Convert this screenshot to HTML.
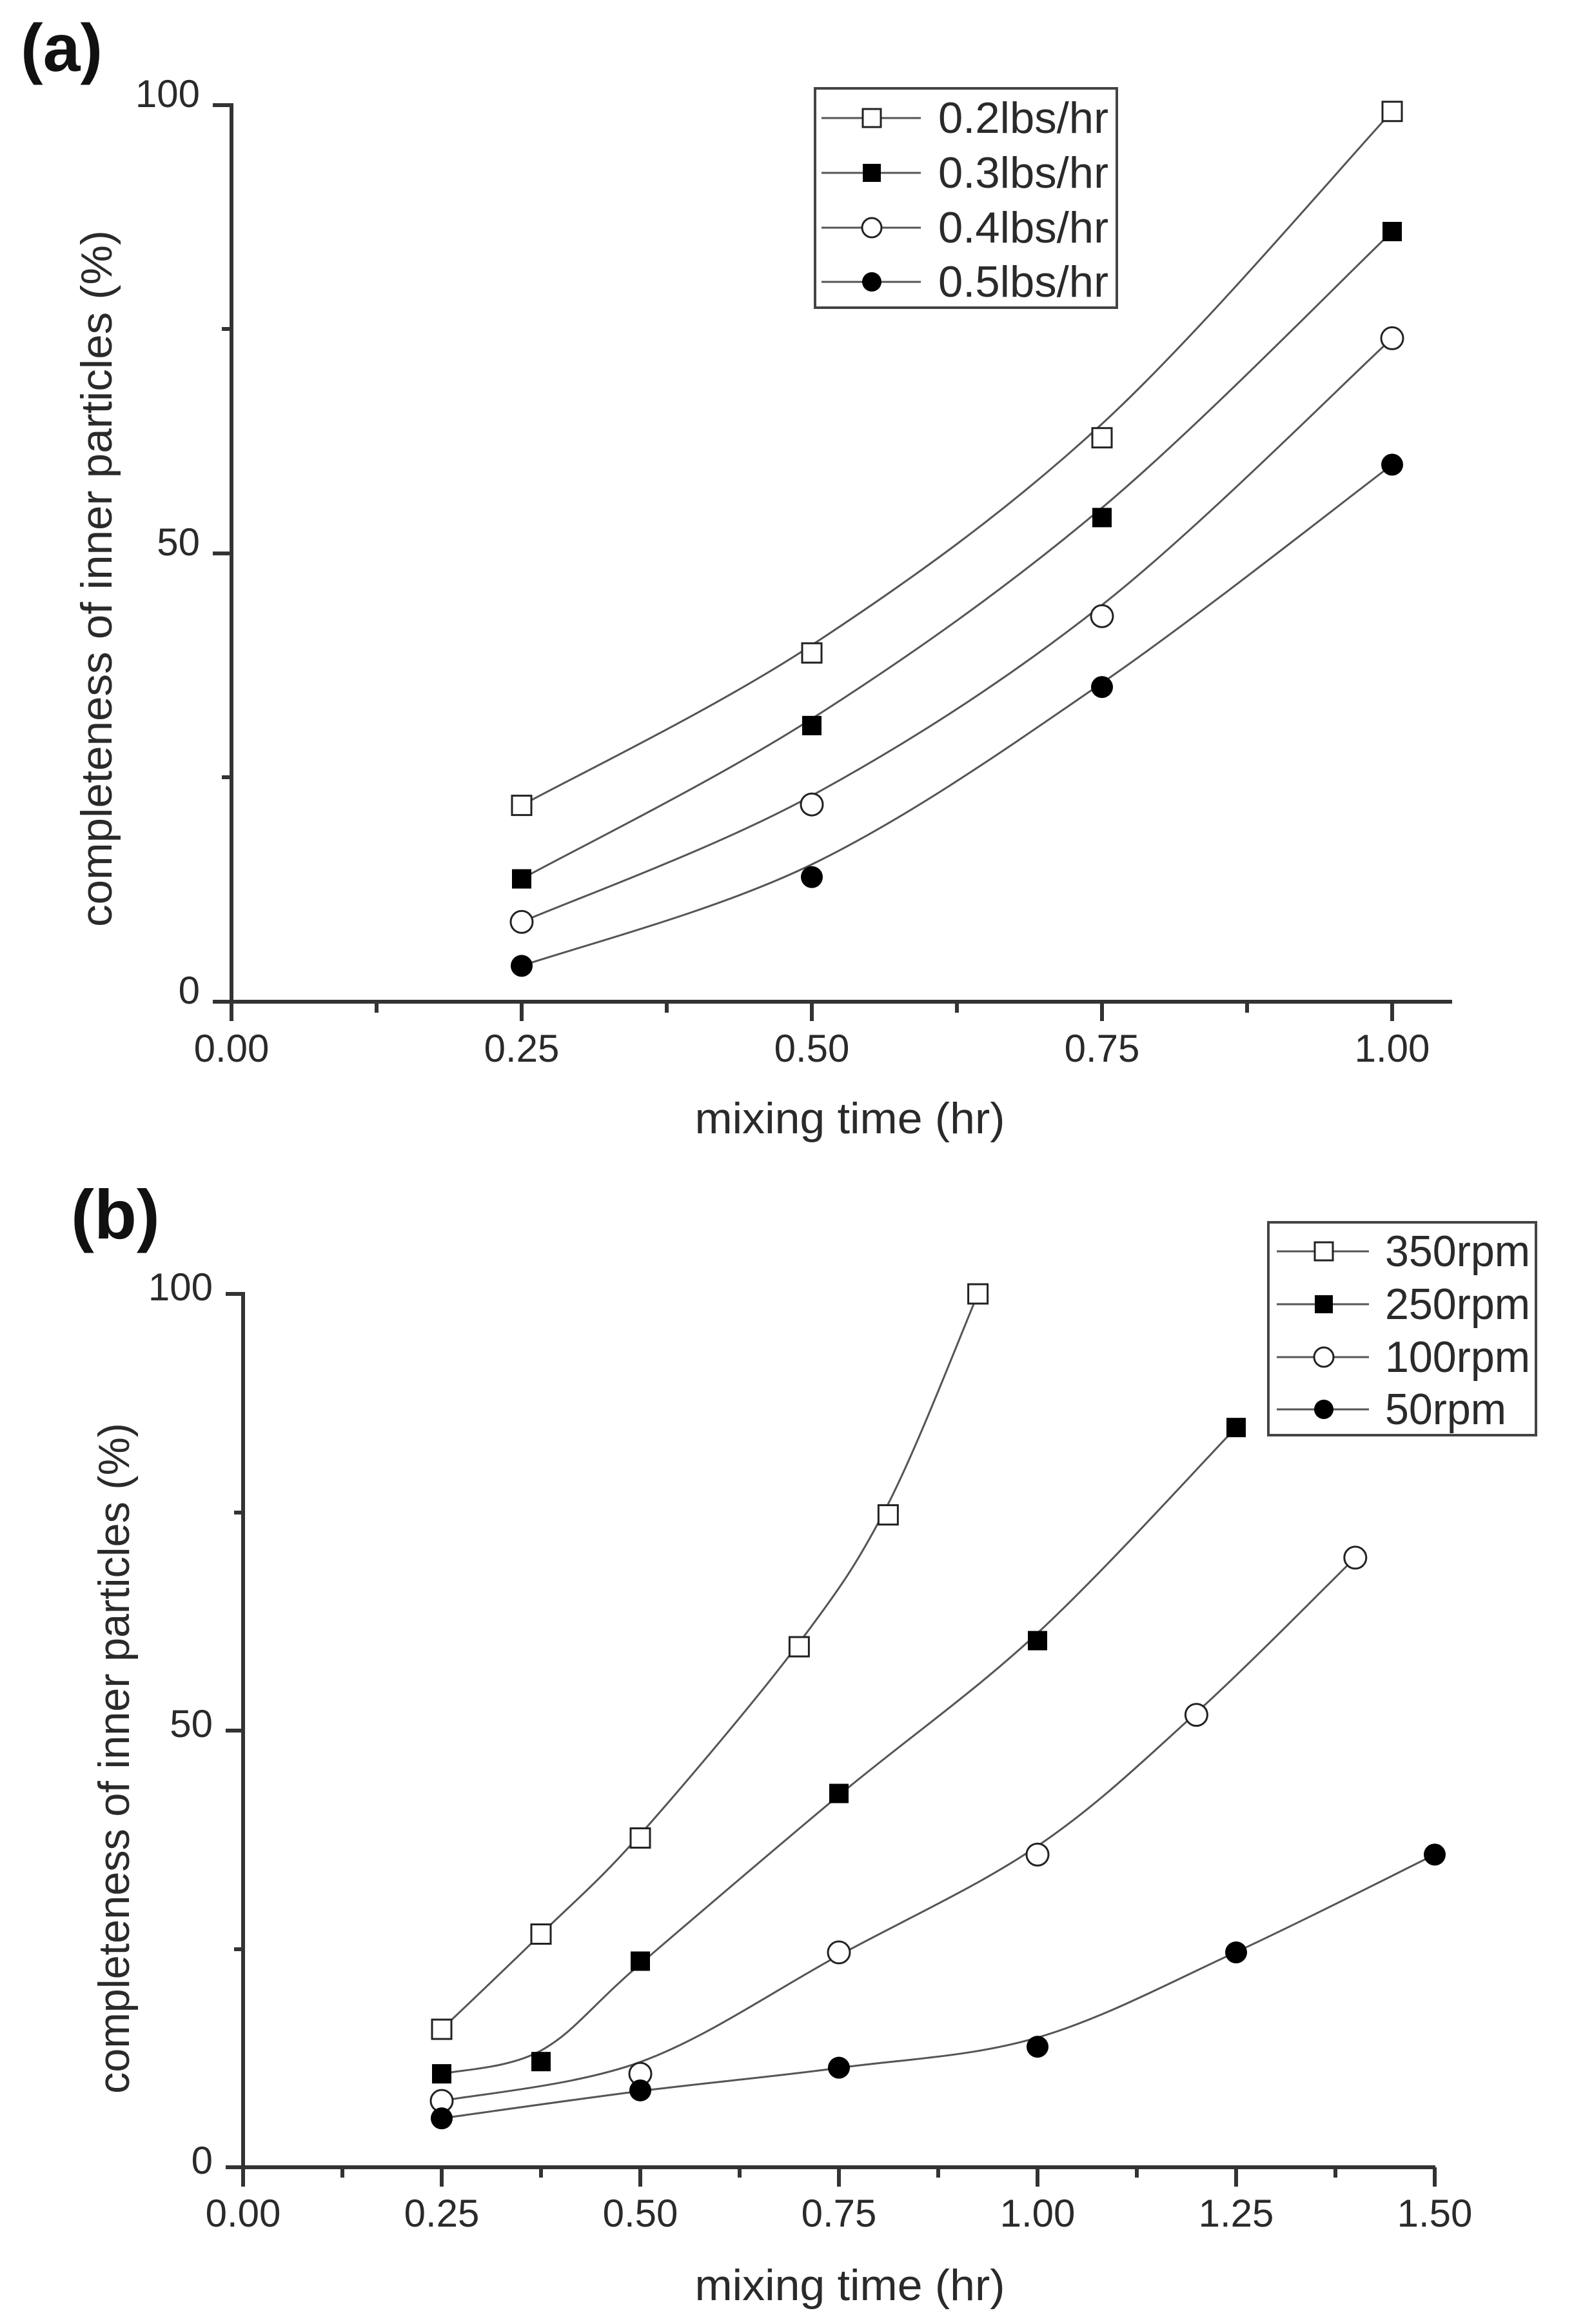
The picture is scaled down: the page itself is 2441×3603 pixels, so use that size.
<!DOCTYPE html>
<html><head><meta charset="utf-8">
<style>
html,body{margin:0;padding:0;background:#fff;}
svg{display:block;}
text{font-family:"Liberation Sans",Arial,sans-serif;fill:#2a2a2a;}
</style></head>
<body>
<svg id="s" width="2441" height="3603" viewBox="0 0 2441 3603" xmlns="http://www.w3.org/2000/svg">
<rect width="2441" height="3603" fill="#fff"/>
<text x="32" y="110" font-size="104" font-weight="bold" style="fill:#111">(a)</text>
<text x="110" y="1920" font-size="108" font-weight="bold" style="fill:#111">(b)</text>

<g stroke="#333" stroke-width="6" fill="none">
<line x1="359" y1="160" x2="359" y2="1583"/>
<line x1="330" y1="1553" x2="2252" y2="1553"/>
<line x1="330" y1="163" x2="359" y2="163"/>
<line x1="330" y1="858" x2="359" y2="858"/>
<line x1="344" y1="510" x2="359" y2="510"/>
<line x1="344" y1="1205" x2="359" y2="1205"/>
<line x1="809" y1="1553" x2="809" y2="1583"/>
<line x1="1259" y1="1553" x2="1259" y2="1583"/>
<line x1="1709" y1="1553" x2="1709" y2="1583"/>
<line x1="2159" y1="1553" x2="2159" y2="1583"/>
<line x1="584" y1="1553" x2="584" y2="1570"/>
<line x1="1034" y1="1553" x2="1034" y2="1570"/>
<line x1="1484" y1="1553" x2="1484" y2="1570"/>
<line x1="1934" y1="1553" x2="1934" y2="1570"/>
</g>
<g font-size="60" text-anchor="end">
<text x="310" y="166">100</text>
<text x="310" y="861">50</text>
<text x="310" y="1556">0</text>
</g>
<g font-size="60" text-anchor="middle">
<text x="359" y="1646">0.00</text>
<text x="809" y="1646">0.25</text>
<text x="1259" y="1646">0.50</text>
<text x="1709" y="1646">0.75</text>
<text x="2159" y="1646">1.00</text>
</g>
<text x="1318" y="1757" font-size="68" text-anchor="middle" textLength="481" lengthAdjust="spacingAndGlyphs">mixing time (hr)</text>
<text transform="translate(173,897) rotate(-90)" font-size="68" text-anchor="middle" textLength="1080" lengthAdjust="spacingAndGlyphs">completeness of inner particles (%)</text>

<rect x="1264" y="137" width="468" height="340" fill="#fff" stroke="#444" stroke-width="4"/>
<g font-size="68">
<text x="1455" y="206" textLength="264" lengthAdjust="spacingAndGlyphs">0.2lbs/hr</text>
<text x="1455" y="291" textLength="264" lengthAdjust="spacingAndGlyphs">0.3lbs/hr</text>
<text x="1455" y="376" textLength="264" lengthAdjust="spacingAndGlyphs">0.4lbs/hr</text>
<text x="1455" y="460" textLength="264" lengthAdjust="spacingAndGlyphs">0.5lbs/hr</text>
</g>

<g stroke="#333" stroke-width="6" fill="none">
<line x1="377" y1="2003" x2="377" y2="3390"/>
<line x1="350" y1="3360" x2="2226" y2="3360"/>
<line x1="350" y1="2006" x2="377" y2="2006"/>
<line x1="350" y1="2683" x2="377" y2="2683"/>
<line x1="363" y1="2345" x2="377" y2="2345"/>
<line x1="363" y1="3022" x2="377" y2="3022"/>
<line x1="685" y1="3360" x2="685" y2="3390"/>
<line x1="993" y1="3360" x2="993" y2="3390"/>
<line x1="1301" y1="3360" x2="1301" y2="3390"/>
<line x1="1609" y1="3360" x2="1609" y2="3390"/>
<line x1="1917" y1="3360" x2="1917" y2="3390"/>
<line x1="2225" y1="3360" x2="2225" y2="3390"/>
<line x1="531" y1="3360" x2="531" y2="3376"/>
<line x1="839" y1="3360" x2="839" y2="3376"/>
<line x1="1147" y1="3360" x2="1147" y2="3376"/>
<line x1="1455" y1="3360" x2="1455" y2="3376"/>
<line x1="1763" y1="3360" x2="1763" y2="3376"/>
<line x1="2071" y1="3360" x2="2071" y2="3376"/>
</g>
<g font-size="60" text-anchor="end">
<text x="330" y="2016">100</text>
<text x="330" y="2693">50</text>
<text x="330" y="3370">0</text>
</g>
<g font-size="60" text-anchor="middle">
<text x="377" y="3452">0.00</text>
<text x="685" y="3452">0.25</text>
<text x="993" y="3452">0.50</text>
<text x="1301" y="3452">0.75</text>
<text x="1609" y="3452">1.00</text>
<text x="1917" y="3452">1.25</text>
<text x="2225" y="3452">1.50</text>
</g>
<text x="1318" y="3566" font-size="68" text-anchor="middle" textLength="481" lengthAdjust="spacingAndGlyphs">mixing time (hr)</text>
<text transform="translate(200,2726) rotate(-90)" font-size="68" text-anchor="middle" textLength="1040" lengthAdjust="spacingAndGlyphs">completeness of inner particles (%)</text>

<rect x="1967" y="1895" width="415" height="330" fill="#fff" stroke="#444" stroke-width="4"/>
<g font-size="68">
<text x="2148" y="1963" textLength="225" lengthAdjust="spacingAndGlyphs">350rpm</text>
<text x="2148" y="2045" textLength="225" lengthAdjust="spacingAndGlyphs">250rpm</text>
<text x="2148" y="2127" textLength="225" lengthAdjust="spacingAndGlyphs">100rpm</text>
<text x="2148" y="2208" textLength="188" lengthAdjust="spacingAndGlyphs">50rpm</text>
</g>

<g id="dyn"></g>
</svg>
<script>
(function(){
var NS="http://www.w3.org/2000/svg",g=document.getElementById("dyn");
function el(t,a){var e=document.createElementNS(NS,t);for(var k in a)e.setAttribute(k,a[k]);g.appendChild(e);return e;}
function marker(type,x,y,sq,r){
  if(type==0) el("rect",{x:x-sq/2,y:y-sq/2,width:sq,height:sq,fill:"#fff",stroke:"#222","stroke-width":3});
  else if(type==1) el("rect",{x:x-sq/2,y:y-sq/2,width:sq,height:sq,fill:"#000"});
  else if(type==2) el("circle",{cx:x,cy:y,r:r,fill:"#fff",stroke:"#222","stroke-width":3});
  else el("circle",{cx:x,cy:y,r:r,fill:"#000"});
}
function curve(p){
  // light smoothing: blend interior points toward neighbours average
  var q=p.map(function(a){return a.slice();});
  for(var i=1;i<p.length-1;i++){
    q[i][1]=0.75*p[i][1]+0.25*(p[i-1][1]+(p[i+1][1]-p[i-1][1])*(p[i][0]-p[i-1][0])/(p[i+1][0]-p[i-1][0]));
  }
  var d="M"+q[0][0]+","+q[0][1];
  for(var i=0;i<q.length-1;i++){
    var p0=q[i-1]||q[i],p1=q[i],p2=q[i+1],p3=q[i+2]||q[i+1];
    var c1x=p1[0]+(p2[0]-p0[0])/6,c1y=p1[1]+(p2[1]-p0[1])/6;
    var c2x=p2[0]-(p3[0]-p1[0])/6,c2y=p2[1]-(p3[1]-p1[1])/6;
    d+=" C"+c1x+","+c1y+" "+c2x+","+c2y+" "+p2[0]+","+p2[1];
  }
  el("path",{d:d,fill:"none",stroke:"#555","stroke-width":3});
}
var ax=function(x){return 359+1800*x},ay=function(y){return 1553-13.9*y};
var A=[
 [[.25,21.9],[.5,38.9],[.75,62.9],[1,99.3]],
 [[.25,13.7],[.5,30.8],[.75,54],[1,85.9]],
 [[.25,8.9],[.5,22],[.75,43],[1,74]],
 [[.25,4],[.5,13.9],[.75,35.1],[1,59.9]]];
A.forEach(function(s,t){var p=s.map(function(q){return[ax(q[0]),ay(q[1])]});curve(p);p.forEach(function(q){marker(t,q[0],q[1],30,17)});});
[183,268,353,437].forEach(function(y,t){el("line",{x1:1274,y1:y,x2:1428,y2:y,stroke:"#555","stroke-width":3});marker(t,1352,y,28,15);});
var bx=function(x){return 377+1232*x},by=function(y){return 3360-13.54*y};
var B=[
 [[.25,15.8],[.375,26.7],[.5,37.7],[.7,59.6],[.812,74.7],[.925,100]],
 [[.25,10.7],[.375,12.1],[.5,23.6],[.75,42.8],[1,60.3],[1.25,84.7]],
 [[.25,7.6],[.5,10.7],[.75,24.6],[1,35.8],[1.2,51.8],[1.4,69.8]],
 [[.25,5.6],[.5,8.8],[.75,11.4],[1,13.8],[1.25,24.6],[1.5,35.8]]];
B.forEach(function(s,t){var p=s.map(function(q){return[bx(q[0]),by(q[1])]});curve(p);p.forEach(function(q){marker(t,q[0],q[1],30,17)});});
[1940,2022,2104,2185].forEach(function(y,t){el("line",{x1:1980,y1:y,x2:2123,y2:y,stroke:"#555","stroke-width":3});marker(t,2053,y,28,15);});
})();
</script>
</body></html>
